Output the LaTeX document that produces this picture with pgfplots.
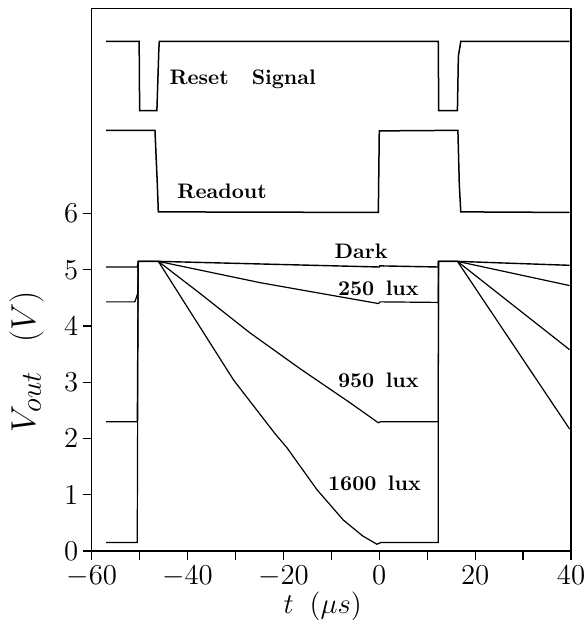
\documentclass[border=0pt]{standalone}
\usepackage{pgfplots}
\pgfplotsset{compat=1.18}
\begin{document}
\begin{tikzpicture}
\useasboundingbox (-45.85pt,-34.5pt) rectangle (247.65pt,275.5pt);
\begin{axis}[
  scale only axis,
  width=239.65pt, height=271.35pt,
  xmin=-60, xmax=40, ymin=0, ymax=9.65,
  axis line style={line width=0.75pt},
  tick align=outside,
  xtick={-60,-40,...,40},
  minor xtick={-50,-30,-10,10,30},
  ytick={0,1,2,3,4,5,6},
  xtick pos=bottom, ytick pos=left,
  major tick length=4.5pt, minor tick length=4.5pt,
  tick style={line width=0.6pt, black},
  tick label style={font=\fontsize{14}{16}\selectfont},
  xticklabel style={yshift=-3pt, inner ysep=0pt},
  yticklabel style={inner xsep=2pt, inner ysep=0pt},
  xlabel={$t\;\;(\mu s)$},
  xlabel style={font=\fontsize{14}{16}\selectfont, at={(rel axis cs:0.482,0)}, anchor=center, yshift=-27.8pt},
  ylabel={$V_{out}\;\;\;(V)$},
  ylabel style={font=\fontsize{19}{22}\selectfont, at={(rel axis cs:-0.136,0.349)}, anchor=center},
  clip=false,
]
% Reset signal
\addplot[black, line width=0.75pt] coordinates {(-57,9.06) (-50.1,9.06) (-50,7.83) (-46.4,7.83) (-46.0,8.9) (-45.9,9.06)
  (12.3,9.06) (12.4,7.83) (16.3,7.83) (16.5,8.8) (17.0,9.06) (39.7,9.06)};
% Readout
\addplot[black, line width=0.75pt] coordinates {(-57,7.48) (-46.8,7.48) (-46.3,6.5) (-46.1,6.03) (-0.2,6.02) (0,7.47)
  (16.4,7.48) (16.7,6.5) (17.0,6.03) (39.7,6.02)};
% Dark
\addplot[black, line width=0.7pt] coordinates {(-57,5.05) (-50.5,5.05) (-50.2,5.15) (-46.1,5.15) (0,5.05) (0.1,5.07)
  (12.3,5.05) (12.35,5.15) (16.3,5.15) (39.7,5.08)};
% 250 lux
\addplot[black, line width=0.6pt] coordinates {(-57,4.43) (-51,4.43) (-50.4,4.58) (-50.3,5.15) (-46.1,5.15) (-24.8,4.77)
  (-0.2,4.40) (0.2,4.43) (12.3,4.42) (12.35,5.15) (16.3,5.15) (39.7,4.72)};
% 950 lux
\addplot[black, line width=0.6pt] coordinates {(-57,2.30) (-50.5,2.30) (-50.3,5.15) (-46.1,5.15) (-37.4,4.58) (-27,3.88)
  (-16.5,3.24) (-6,2.63) (-0.2,2.28) (0.3,2.30) (12.3,2.30) (12.35,5.15) (16.3,5.15) (39.7,3.58)};
% 1600 lux
\addplot[black, line width=0.6pt] coordinates {(-57,0.15) (-50.5,0.15) (-50.3,5.15) (-46.1,5.15) (-30.4,3.04) (-21.7,2.08)
  (-19.3,1.84) (-13,1.09) (-7.5,0.55) (-3.5,0.27) (-0.5,0.12) (0.3,0.15) (12.3,0.15)
  (12.35,5.15) (16.3,5.15) (39.7,2.17)};
\begin{scope}[every node/.style={font=\fontsize{10.5}{12}\selectfont\bfseries}]
\node at (axis cs:-28.5,8.38) {Reset\hspace{1.1em}Signal};
\node at (axis cs:-32.8,6.39) {Readout};
\node at (axis cs:-3.8,5.33) {Dark};
\node at (axis cs:-0.2,4.67) {250\hspace{0.55em}lux};
\node at (axis cs:-0.2,3.04) {950\hspace{0.55em}lux};
\node at (axis cs:-1.0,1.20) {1600\hspace{0.55em}lux};
\end{scope}
\end{axis}
\end{tikzpicture}
\end{document}
